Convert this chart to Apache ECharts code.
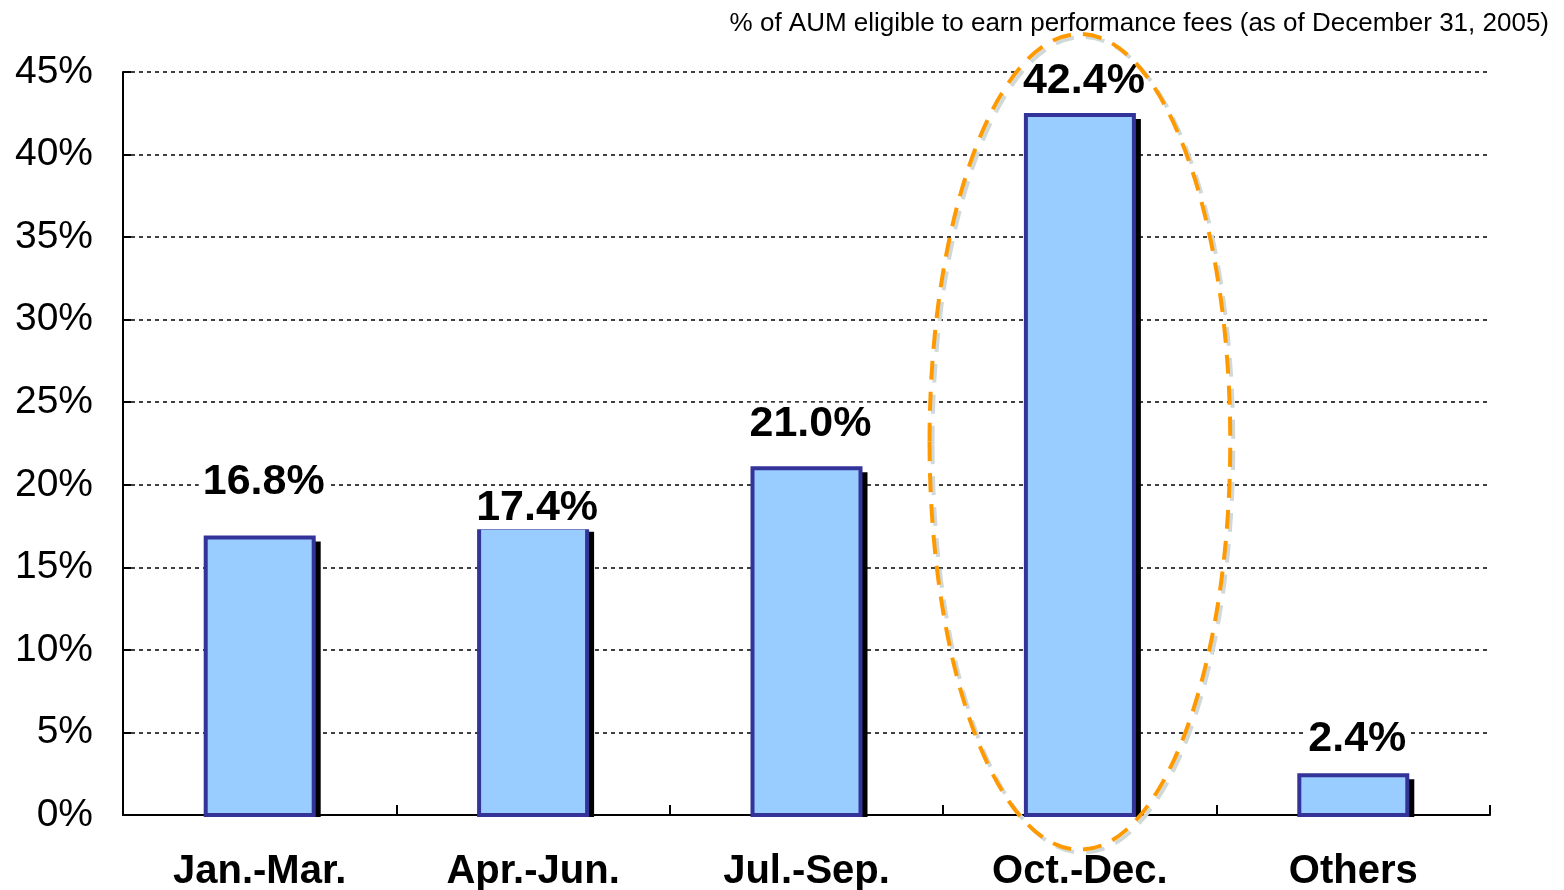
<!DOCTYPE html>
<html>
<head>
<meta charset="utf-8">
<script src="https://cdn.jsdelivr.net/npm/echarts@6/dist/echarts.min.js"></script>
<style>
html,body{margin:0;padding:0;background:#fff;}
#chart{width:1564px;height:890px;}
</style>
</head>
<body>
<div id="chart"></div>
<script>
const categories = ['Jan.-Mar.', 'Apr.-Jun.', 'Jul.-Sep.', 'Oct.-Dec.', 'Others'];
const values = [16.8, 17.4, 21.0, 42.4, 2.4];
const titleText = '% of AUM eligible to earn performance fees (as of December 31, 2005)';
const highlightIndex = 3;

const FONT = '"Liberation Sans", Arial, sans-serif';
const labelGap = [55, 20, 44, 34, 36];
const BAR_W = 108;

const chart = echarts.init(document.getElementById('chart'), null, {renderer: 'canvas'});

function renderItem(params, api) {
  const i = params.dataIndex;
  const v = api.value(1);
  const base = api.coord([api.value(0), 0]);
  const top = api.coord([api.value(0), v]);
  const x0 = base[0] - BAR_W / 2;
  return {
    type: 'group',
    children: [
      {type: 'rect', shape: {x: x0 + 7, y: top[1] + 4, width: BAR_W, height: base[1] - top[1] - 2}, style: {fill: '#000'}},
      {type: 'rect', shape: {x: x0, y: top[1], width: BAR_W, height: base[1] - top[1]},
        style: {fill: '#99CCFF', stroke: '#333399', lineWidth: 4}},
      {type: 'text', x: base[0] + 4, y: top[1] - labelGap[i], z2: 10,
        style: {text: v.toFixed(1) + '%', font: 'bold 43px ' + FONT, fill: '#000',
          align: 'center', verticalAlign: 'middle', backgroundColor: '#fff', padding: [0, 4]}}
    ]
  };
}

const option = {
  backgroundColor: '#ffffff',
  animation: false,
  title: {
    text: titleText,
    right: 10,
    top: 6,
    textStyle: {fontFamily: FONT, fontSize: 26, fontWeight: 'normal', color: '#000'}
  },
  grid: {left: 123, right: 74, top: 72, bottom: 75, containLabel: false, outerBoundsMode: 'none'},
  xAxis: {
    type: 'category',
    data: categories,
    boundaryGap: true,
    axisLine: {show: true, lineStyle: {color: '#000', width: 2}},
    axisTick: {show: true, inside: true, length: 10, lineStyle: {color: '#000', width: 2}},
    axisLabel: {fontFamily: FONT, fontSize: 40, fontWeight: 'bold', color: '#000', margin: 37},
    splitLine: {show: false}
  },
  yAxis: {
    type: 'value',
    min: 0, max: 45, interval: 5,
    axisLine: {show: true, lineStyle: {color: '#000', width: 2}},
    axisTick: {show: true, inside: true, length: 8, lineStyle: {color: '#000', width: 2}},
    axisLabel: {fontFamily: FONT, fontSize: 39, color: '#000', margin: 30, formatter: '{value}%'},
    splitLine: {show: true, lineStyle: {color: '#000', width: 1.5, type: [4, 4]}}
  },
  series: [{
    type: 'custom',
    renderItem: renderItem,
    encode: {x: 0, y: 1},
    data: values.map((v, i) => [i, v])
  }]
};
chart.setOption(option);

// Highlight ellipse around the Oct.-Dec. bar, positioned through the chart's scales
const center = chart.convertToPixel({seriesIndex: 0}, [highlightIndex, 22.6]);
const topPt = chart.convertToPixel({seriesIndex: 0}, [highlightIndex, 47.3]);
const catW = chart.convertToPixel({xAxisIndex: 0}, categories[1]) - chart.convertToPixel({xAxisIndex: 0}, categories[0]);
chart.setOption({
  graphic: [{
    type: 'ellipse',
    z: 100,
    shape: {cx: center[0], cy: center[1], rx: catW * 0.55, ry: center[1] - topPt[1]},
    style: {
      fill: null,
      stroke: '#FF9900',
      lineWidth: 4,
      lineDash: [19, 12],
      shadowColor: '#D0D8D8',
      shadowOffsetX: 3,
      shadowOffsetY: 3,
      shadowBlur: 0
    }
  }]
});
</script>
</body>
</html>
